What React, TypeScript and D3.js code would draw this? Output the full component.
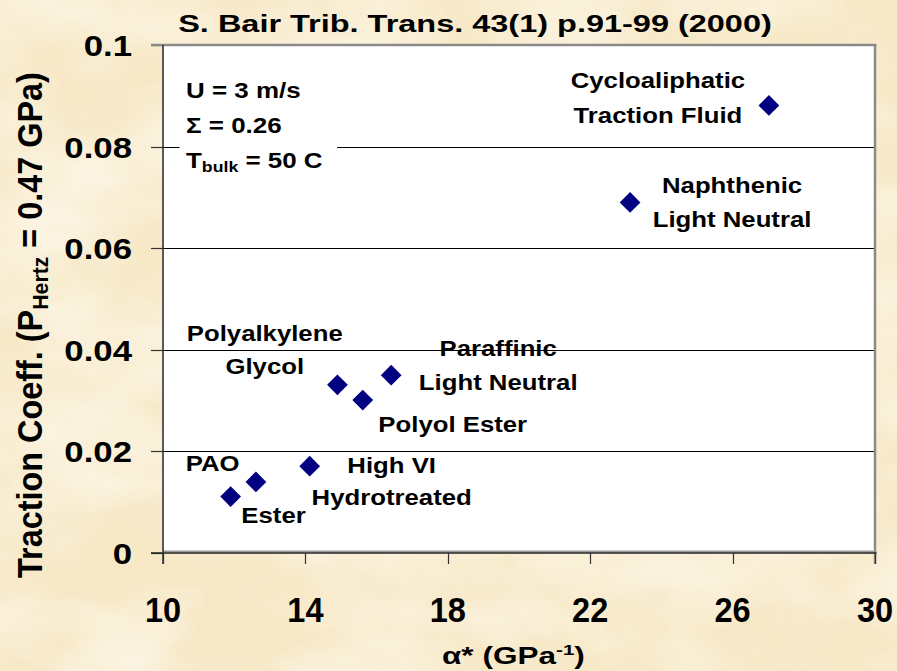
import React, { useLayoutEffect, useRef } from "react";
import * as d3 from "d3";

// ---------- data ----------
const fluids = [
  "Cycloaliphatic Traction Fluid",
  "Naphthenic Light Neutral",
  "Paraffinic Light Neutral",
  "Polyol Ester",
  "Polyalkylene Glycol",
  "High VI Hydrotreated",
  "Ester",
  "PAO",
];
const alphaStar = [27.02, 23.12, 16.41, 15.61, 14.9, 14.12, 12.61, 11.9];
const tractionCoeff = [0.0881, 0.069, 0.035, 0.0301, 0.0331, 0.0171, 0.014, 0.0111];
const labelLines = [
  ["Cycloaliphatic", "Traction Fluid"],
  ["Naphthenic", "Light Neutral"],
  ["Paraffinic", "Light Neutral"],
  ["Polyol Ester"],
  ["Polyalkylene", "Glycol"],
  ["High VI", "Hydrotreated"],
  ["Ester"],
  ["PAO"],
];
const xTicks = [10, 14, 18, 22, 26, 30];
const yTicks = [0, 0.02, 0.04, 0.06, 0.08, 0.1];
const yTickLabels = ["0", "0.02", "0.04", "0.06", "0.08", "0.1"];
const gridValues = [0.02, 0.04, 0.06, 0.08];
const titleText = "S. Bair Trib. Trans. 43(1) p.91-99 (2000)";

// ---------- layout (label offsets from their point, px) ----------
const labelOffsets = [
  { dx: -111, dy: [-17.2, 17.2] },
  { dx: 102, dy: [-9.2, 24.2] },
  { dx: 107, dy: [-19.5, 14.8] },
  { dx: 90, dy: [31.6] },
  { dx: -72.7, dy: [-44.2, -10.6] },
  { dx: 82, dy: [7.2, 38.9] },
  { dx: 17.6, dy: [41.4] },
  { dx: -18, dy: [-25.9] },
];

const W = 897;
const H = 671;
const M = { left: 163, right: 875, top: 45, bottom: 553 };
const FONT = "'Liberation Sans', Arial, Helvetica, sans-serif";

export default function App() {
  const ref = useRef<SVGSVGElement>(null);

  const x = d3.scaleLinear().domain([10, 30]).range([M.left, M.right]);
  const y = d3.scaleLinear().domain([0, 0.1]).range([M.bottom, M.top]);

  const diamond = d3.symbol().type(d3.symbolSquare).size(215)() || "";

  useLayoutEffect(() => {
    if (!ref.current) return;
    d3.select(ref.current)
      .selectAll<SVGTextElement, unknown>("text[data-fit]")
      .each(function () {
        const el = this;
        const target = +(el.getAttribute("data-fit") || 0);
        const tx = el.getAttribute("data-tx");
        const ty = el.getAttribute("data-ty");
        const rot = el.getAttribute("data-rot") === "1";
        const thick = +(el.getAttribute("data-thick") || 1);
        const bw = el.getBBox().width || 1;
        const k = target / bw;
        el.setAttribute(
          "transform",
          rot
            ? `translate(${tx},${ty}) scale(${thick},${k}) rotate(-90)`
            : `translate(${tx},${ty}) scale(${k},${thick})`
        );
      });
  }, []);

  const labelSx = 1.17;
  const xMid = x(20);

  return (
    <svg
      ref={ref}
      width={W}
      height={H}
      style={{ position: "absolute", left: 0, top: 0, display: "block" }}
      fontFamily={FONT}
      fontWeight="bold"
    >
      <defs>
        <filter id="paperLight" x="0" y="0" width="100%" height="100%">
          <feTurbulence type="fractalNoise" baseFrequency="0.006 0.01" numOctaves="4" seed="7" />
          <feColorMatrix
            type="matrix"
            values="0 0 0 0 1  0 0 0 0 0.975  0 0 0 0 0.9  1.6 0 0 0 -0.62"
          />
        </filter>
        <filter id="paperDark" x="0" y="0" width="100%" height="100%">
          <feTurbulence type="fractalNoise" baseFrequency="0.012 0.02" numOctaves="3" seed="19" />
          <feColorMatrix
            type="matrix"
            values="0 0 0 0 0.93  0 0 0 0 0.84  0 0 0 0 0.66  1.4 0 0 0 -0.6"
          />
        </filter>
      </defs>

      {/* parchment background */}
      <rect x={0} y={0} width={W} height={H} fill="#F7E8C6" />
      <rect x={0} y={0} width={W} height={H} filter="url(#paperDark)" opacity={0.8} />
      <rect x={0} y={0} width={W} height={H} filter="url(#paperLight)" />

      {/* plot area */}
      <rect
        x={M.left}
        y={M.top}
        width={M.right - M.left}
        height={M.bottom - M.top}
        fill="#FFFFFF"
      />

      {/* gridlines + y ticks */}
      {gridValues.map((v) => (
        <line
          key={"g" + v}
          x1={151}
          x2={M.right}
          y1={Math.round(y(v)) + 0.5}
          y2={Math.round(y(v)) + 0.5}
          stroke="#000"
          strokeWidth={1}
        />
      ))}
      {yTicks.map((v) => (
        <line
          key={"yt" + v}
          x1={151}
          x2={M.left}
          y1={Math.round(y(v)) + 0.5}
          y2={Math.round(y(v)) + 0.5}
          stroke="#333"
          strokeWidth={1.2}
        />
      ))}

      {/* frame */}
      <line x1={151} x2={M.right + 1.5} y1={M.top} y2={M.top} stroke="#8A8A8A" strokeWidth={2.5} />
      <line x1={M.right} x2={M.right} y1={M.top - 1} y2={M.bottom + 11} stroke="#8A8A8A" strokeWidth={2.5} />
      <line x1={M.left} x2={M.right + 1.5} y1={M.bottom - 1.5} y2={M.bottom - 1.5} stroke="#9A9A9A" strokeWidth={2} />
      <line x1={151} x2={M.right + 1.5} y1={M.bottom} y2={M.bottom} stroke="#222" strokeWidth={1.3} />
      <line x1={M.left} x2={M.left} y1={M.top} y2={M.bottom + 11} stroke="#333" strokeWidth={1.6} />
      {xTicks.map((v) => (
        <line
          key={"xt" + v}
          x1={Math.round(x(v)) + 0.5}
          x2={Math.round(x(v)) + 0.5}
          y1={M.bottom}
          y2={M.bottom + 11}
          stroke="#333"
          strokeWidth={1.2}
        />
      ))}

      {/* conditions box */}
      <rect x={179.5} y={62} width={157.5} height={118} fill="#FFFFFF" />
      <g fontSize={22} fill="#000">
        <text transform={`translate(186,98.3) scale(1.18,1)`}>U = 3 m/s</text>
        <text transform={`translate(186,132.7) scale(1.18,1)`}>Σ = 0.26</text>
        <text transform={`translate(186,168.3) scale(1.18,1)`}>
          T<tspan fontSize={15} dy={4}>bulk</tspan>
          <tspan dy={-4}> = 50 C</tspan>
        </text>
      </g>

      {/* point labels */}
      <g fontSize={22} fill="#000" textAnchor="middle">
        {fluids.map((f, i) =>
          labelLines[i].map((line, j) => (
            <text
              key={f + j}
              transform={`translate(${x(alphaStar[i]) + labelOffsets[i].dx},${
                y(tractionCoeff[i]) + labelOffsets[i].dy[j]
              }) scale(${labelSx},1)`}
            >
              {line}
            </text>
          ))
        )}
      </g>

      {/* points */}
      {fluids.map((f, i) => (
        <path
          key={"p" + f}
          d={diamond}
          fill="#000080"
          transform={`translate(${x(alphaStar[i])},${y(tractionCoeff[i])}) rotate(45)`}
        />
      ))}

      {/* y tick labels */}
      <g fontSize={30} fill="#000" textAnchor="end">
        {yTicks.map((v, i) => (
          <text key={"yl" + v} transform={`translate(132,${y(v) + 11}) scale(1.16,1)`}>
            {yTickLabels[i]}
          </text>
        ))}
      </g>

      {/* x tick labels */}
      <g fontSize={35} fill="#000" textAnchor="middle">
        {xTicks.map((v) => (
          <text key={"xl" + v} transform={`translate(${x(v)},621.7) scale(0.93,1)`}>
            {v}
          </text>
        ))}
      </g>

      {/* title */}
      <text
        data-fit={594}
        data-tx={475}
        data-ty={31.5}
        fontSize={23}
        textAnchor="middle"
        fill="#000"
        transform={`translate(475,31.5)`}
      >
        {titleText}
      </text>

      {/* x axis title */}
      <text
        data-fit={143}
        data-tx={513.4}
        data-ty={664}
        fontSize={23}
        textAnchor="middle"
        fill="#000"
        transform={`translate(513.4,664)`}
      >
        α* (GPa<tspan fontSize={15} dy={-9}>-1</tspan>
        <tspan dy={9}>)</tspan>
      </text>

      {/* y axis title */}
      <text
        data-fit={506}
        data-tx={42}
        data-ty={325}
        data-rot="1"
        data-thick={1.08}
        fontSize={32}
        textAnchor="middle"
        fill="#000"
        transform={`translate(42,325) rotate(-90)`}
      >
        Traction Coeff. (P<tspan fontSize={21} dy={6}>Hertz</tspan>
        <tspan dy={-6}> = 0.47 GPa)</tspan>
      </text>
    </svg>
  );
}
